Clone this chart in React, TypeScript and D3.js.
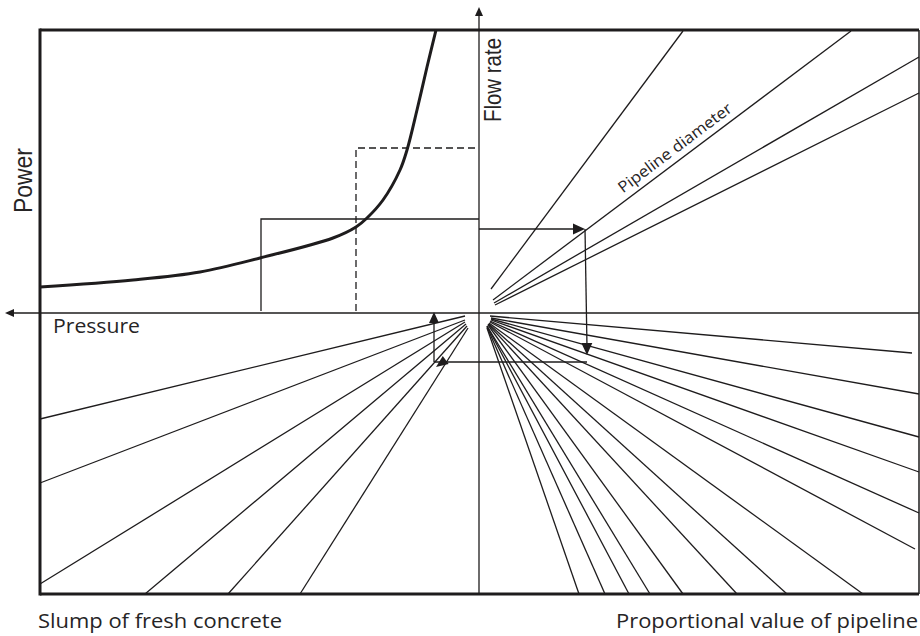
import React from "react";
import * as d3 from "d3";

// ---- Data (diagram units; origin at the axes crossing, y positive upward) ----
const xDomain = [-439, 440];
const yDomain = [-281, 283];

// Power vs pressure curve (upper-left quadrant)
const powerCurveX = [-439, -346, -279, -219, -146, -123, -112, -96, -79, -72, -62, -52, -43];
const powerCurveY = [26, 33, 41, 55, 75, 86, 95, 113, 143, 163, 203, 246, 283];

// Solid guide (operating point) and dashed guide
const solidGuideX = [-218, -218, 0];
const solidGuideY = [2, 94, 94];
const dashedGuideX = [-123, -123, 0];
const dashedGuideY = [2, 165, 165];

// Pipeline diameter lines (upper-right quadrant)
const diameterStartX = [12, 14, 15, 16];
const diameterStartY = [24, 13, 10, 8];
const diameterEndX = [204, 372, 440, 440];
const diameterEndY = [282, 282, 256, 220];

// Slump lines (lower-left quadrant)
const slumpStartX = [-14, -14, -14, -13, -12, -11];
const slumpStartY = [-3, -7, -9, -11, -13, -15];
const slumpEndX = [-439, -439, -439, -334, -251, -179];
const slumpEndY = [-106, -170, -271, -281, -281, -281];

// Proportional value of pipeline lines (lower-right quadrant)
const ratioStartX = [11, 12, 12, 12, 11, 11, 10, 10, 9, 9, 8, 8, 8, 8];
const ratioStartY = [-3, -5, -6, -7, -8, -9, -10, -11, -11, -12, -13, -13, -14, -15];
const ratioEndX = [433, 440, 440, 440, 440, 436, 384, 308, 258, 204, 171, 150, 126, 100];
const ratioEndY = [-40, -81, -124, -159, -200, -236, -281, -281, -281, -281, -281, -281, -281, -281];

// Flow path with arrows: flow rate -> diameter -> ratio -> slump -> pressure
const flowPathX = [0, 106, 108, -45, -45];
const flowPathY = [84, 84, -42, -49, 1];

// Axis extents
const axisLeftX = -474;
const axisTopY = 306;

// Labels
const labelPower = "Power";
const labelFlow = "Flow rate";
const labelPressure = "Pressure";
const labelDiameter = "Pipeline diameter";
const labelSlump = "Slump of fresh concrete";
const labelRatio = "Proportional value of pipeline";

const INK = "#1e1c1d";
const TEXT = "#262425";

export default function App() {
  const x = d3.scaleLinear().domain(xDomain).range([40, 919]);
  const y = d3.scaleLinear().domain(yDomain).range([594, 30]);

  const line = d3
    .line<[number, number]>()
    .x((d) => x(d[0]))
    .y((d) => y(d[1]));
  const curve = d3
    .line<[number, number]>()
    .x((d) => x(d[0]))
    .y((d) => y(d[1]))
    .curve(d3.curveCatmullRom.alpha(0.5));

  const powerPts = powerCurveX.map((v, i) => [v, powerCurveY[i]] as [number, number]);
  const solidPts = solidGuideX.map((v, i) => [v, solidGuideY[i]] as [number, number]);
  const dashedPts = dashedGuideX.map((v, i) => [v, dashedGuideY[i]] as [number, number]);

  const x0 = x(xDomain[0]);
  const x1 = x(xDomain[1]);
  const y0 = y(yDomain[0]);
  const y1 = y(yDomain[1]);
  const ox = x(0);
  const oy = y(0);

  const head = (tx: number, ty: number, ang: number, len: number, wid: number) => {
    const bx = tx - len * Math.cos(ang);
    const by = ty - len * Math.sin(ang);
    const px = -Math.sin(ang) * (wid / 2);
    const py = Math.cos(ang) * (wid / 2);
    return `M${tx},${ty}L${bx + px},${by + py}L${bx - px},${by - py}Z`;
  };

  const fp = flowPathX.map((v, i) => [x(v), y(flowPathY[i])]);
  const segAngle = (a: number[], b: number[]) => Math.atan2(b[1] - a[1], b[0] - a[0]);

  const dA = [x(diameterStartX[1]), y(diameterStartY[1])];
  const dB = [x(diameterEndX[1]), y(diameterEndY[1])];
  const dAng = segAngle(dA, dB);
  const t = 0.375;
  const off = 7;
  const lx = dA[0] + (dB[0] - dA[0]) * t + Math.sin(dAng) * off;
  const ly = dA[1] + (dB[1] - dA[1]) * t - Math.cos(dAng) * off;

  const thin = 1.3;
  const sans = "Open Sans, sans-serif";

  return (
    <svg
      width={920}
      height={636}
      style={{ position: "absolute", left: 0, top: 0, background: "#fff" }}
    >
      {/* frame */}
      <line x1={x0} y1={y1} x2={x1} y2={y1} stroke={INK} strokeWidth={3} />
      <line x1={x0} y1={y0} x2={x1} y2={y0} stroke={INK} strokeWidth={3} />
      <line x1={x0} y1={y1 - 1.5} x2={x0} y2={y0 + 1.5} stroke={INK} strokeWidth={3} />
      <line x1={x1} y1={y1} x2={x1} y2={y0} stroke={INK} strokeWidth={1.5} />

      {/* axes */}
      <line x1={x(axisLeftX) + 6} y1={oy} x2={x1} y2={oy} stroke={INK} strokeWidth={thin} />
      <path d={head(x(axisLeftX), oy, Math.PI, 9, 8)} fill={INK} />
      <line x1={ox} y1={y(axisTopY) + 6} x2={ox} y2={y0} stroke={INK} strokeWidth={thin} />
      <path d={head(ox, y(axisTopY), -Math.PI / 2, 9, 8)} fill={INK} />

      {/* guides */}
      <path d={line(solidPts) || ""} fill="none" stroke={INK} strokeWidth={thin} />
      <path
        d={line(dashedPts) || ""}
        fill="none"
        stroke={INK}
        strokeWidth={thin}
        strokeDasharray="7,4"
      />

      {/* diameter lines */}
      {diameterStartX.map((v, i) => (
        <line
          key={"d" + i}
          x1={x(v)}
          y1={y(diameterStartY[i])}
          x2={x(diameterEndX[i])}
          y2={y(diameterEndY[i])}
          stroke={INK}
          strokeWidth={thin}
        />
      ))}

      {/* slump lines */}
      {slumpStartX.map((v, i) => (
        <line
          key={"s" + i}
          x1={x(v)}
          y1={y(slumpStartY[i])}
          x2={x(slumpEndX[i])}
          y2={y(slumpEndY[i])}
          stroke={INK}
          strokeWidth={thin}
        />
      ))}

      {/* ratio lines */}
      {ratioStartX.map((v, i) => (
        <line
          key={"r" + i}
          x1={x(v)}
          y1={y(ratioStartY[i])}
          x2={x(ratioEndX[i])}
          y2={y(ratioEndY[i])}
          stroke={INK}
          strokeWidth={thin}
        />
      ))}

      {/* flow path with arrows */}
      <line x1={fp[0][0]} y1={fp[0][1]} x2={fp[1][0] - 8} y2={fp[1][1]} stroke={INK} strokeWidth={thin} />
      <path d={head(fp[1][0], fp[1][1], 0, 12, 11)} fill={INK} />
      <line x1={fp[1][0]} y1={fp[1][1]} x2={fp[2][0]} y2={fp[2][1] - 8} stroke={INK} strokeWidth={thin} />
      <path d={head(fp[2][0], fp[2][1], segAngle(fp[1], fp[2]), 12, 11)} fill={INK} />
      <line x1={fp[2][0]} y1={fp[3][1]} x2={fp[3][0]} y2={fp[3][1]} stroke={INK} strokeWidth={thin} />
      <path d={head(fp[3][0] + 2, fp[3][1] + 5, Math.PI * 0.8, 12, 10)} fill={INK} />
      <line x1={fp[3][0]} y1={fp[3][1]} x2={fp[4][0]} y2={fp[4][1] + 8} stroke={INK} strokeWidth={thin} />
      <path d={head(fp[4][0], fp[4][1], -Math.PI / 2, 11, 10)} fill={INK} />

      {/* power curve */}
      <path d={curve(powerPts) || ""} fill="none" stroke={INK} strokeWidth={3} />

      {/* labels */}
      <text
        transform={`translate(32,213) rotate(-90)`}
        fontFamily="Liberation Sans, Arial, sans-serif"
        fontSize={25}
        fill={TEXT}
        textLength={65}
        lengthAdjust="spacingAndGlyphs"
      >
        {labelPower}
      </text>
      <text
        transform={`translate(501,122) rotate(-90)`}
        fontFamily="Liberation Sans, Arial, sans-serif"
        fontSize={24}
        fill={TEXT}
        textLength={84}
        lengthAdjust="spacingAndGlyphs"
      >
        {labelFlow}
      </text>
      <text
        x={53}
        y={333}
        fontFamily={sans}
        fontSize={19.5}
        fill={TEXT}
        textLength={87}
        lengthAdjust="spacingAndGlyphs"
      >
        {labelPressure}
      </text>
      <text
        transform={`translate(${lx},${ly}) rotate(${(dAng * 180) / Math.PI})`}
        fontFamily={sans}
        fontSize={15.5}
        fill={TEXT}
        textLength={138}
        lengthAdjust="spacingAndGlyphs"
      >
        {labelDiameter}
      </text>
      <text
        x={38}
        y={628}
        fontFamily={sans}
        fontSize={19.5}
        fill={TEXT}
        textLength={244}
        lengthAdjust="spacingAndGlyphs"
      >
        {labelSlump}
      </text>
      <text
        x={616}
        y={628}
        fontFamily={sans}
        fontSize={19.5}
        fill={TEXT}
        textLength={302}
        lengthAdjust="spacingAndGlyphs"
      >
        {labelRatio}
      </text>
    </svg>
  );
}
